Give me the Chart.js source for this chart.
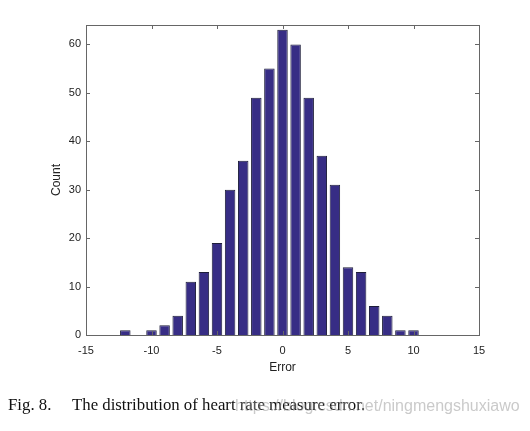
<!DOCTYPE html>
<html>
<head>
<meta charset="utf-8">
<script src="https://cdn.jsdelivr.net/npm/chart.js@4/dist/chart.umd.min.js"></script>
<style>
  html, body { margin: 0; padding: 0; background: #fff; }
  #wrap { position: relative; width: 530px; height: 431px; }
  #c { position: absolute; left: 0; top: 0; }
  .cap { position: absolute; top: 397px; line-height: 1; font-family: "Liberation Serif", "Times New Roman", serif; font-size: 16.8px; color: #111; white-space: pre; }
  #wm { position: absolute; left: 235px; top: 398px; line-height: 1; font-family: "Liberation Sans", Arial, sans-serif; font-size: 16px; color: rgba(150,150,150,0.5); white-space: pre; }
</style>
</head>
<body>
<div id="wrap">
  <canvas id="c" width="530" height="431"></canvas>
  <div class="cap" style="left:8px">Fig. 8.</div>
  <div class="cap" style="left:72px">The distribution of heart rate measure error.</div>
  <div id="wm">https://blog.csdn.net/ningmengshuxiawo</div>
</div>
<script>
const errorBins = [-12, -11, -10, -9, -8, -7, -6, -5, -4, -3, -2, -1, 0, 1, 2, 3, 4, 5, 6, 7, 8, 9, 10];
const counts    = [1, 0, 1, 2, 4, 11, 13, 19, 30, 36, 49, 55, 63, 60, 49, 37, 31, 14, 13, 6, 4, 1, 1];
const xTicks = [-15, -10, -5, 0, 5, 10, 15];
const yTicks = [0, 10, 20, 30, 40, 50, 60];
const xTitle = "Error";
const yTitle = "Count";

const frame = {
  id: 'frame',
  afterDraw(chart) {
    const {ctx, chartArea: a, scales} = chart;
    ctx.save();
    ctx.strokeStyle = '#666';
    ctx.lineWidth = 1;
    ctx.strokeRect(Math.round(a.left) + 0.5, Math.round(a.top) + 0.5, Math.round(a.right - a.left), Math.round(a.bottom - a.top));
    const tl = 4;
    ctx.beginPath();
    xTicks.forEach(v => {
      const x = Math.round(scales.x.getPixelForValue(v)) + 0.5;
      ctx.moveTo(x, a.bottom); ctx.lineTo(x, a.bottom - tl);
      ctx.moveTo(x, a.top); ctx.lineTo(x, a.top + tl);
    });
    yTicks.forEach(v => {
      const y = Math.round(scales.y.getPixelForValue(v)) + 0.5;
      ctx.moveTo(a.left, y); ctx.lineTo(a.left + tl, y);
      ctx.moveTo(a.right, y); ctx.lineTo(a.right - tl, y);
    });
    ctx.stroke();
    ctx.fillStyle = '#222';
    ctx.font = '12px "Liberation Sans", Arial, sans-serif';
    ctx.textAlign = 'center';
    ctx.textBaseline = 'middle';
    ctx.fillText(xTitle, (a.left + a.right) / 2, 368);
    ctx.translate(57, (a.top + a.bottom) / 2);
    ctx.rotate(-Math.PI / 2);
    ctx.fillText(yTitle, 0, 0);
    ctx.restore();
  }
};

new Chart(document.getElementById('c'), {
  type: 'bar',
  data: {
    datasets: [{
      data: errorBins.map((e, i) => ({x: e, y: counts[i]})),
      backgroundColor: '#372d85',
      borderColor: '#1e1e3a',
      borderWidth: 1,
      barPercentage: 1.0,
      categoryPercentage: 0.8,
      minBarLength: 0
    }]
  },
  options: {
    responsive: false,
    animation: false,
    devicePixelRatio: 1,
    layout: { padding: { left: 0, right: 51, top: 25, bottom: 0 } },
    plugins: { legend: { display: false }, tooltip: { enabled: false } },
    scales: {
      x: {
        type: 'linear',
        min: -15, max: 15,
        offset: false,
        grid: { display: false, drawTicks: false },
        border: { display: false },
        afterBuildTicks: s => { s.ticks = xTicks.map(v => ({value: v})); },
        afterFit: s => { s.height = 96; },
        ticks: { padding: 9, color: '#222', font: { family: '"Liberation Sans", Arial, sans-serif', size: 11 }, maxRotation: 0 }
      },
      y: {
        min: 0, max: 64,
        grid: { display: false, drawTicks: false },
        border: { display: false },
        afterBuildTicks: s => { s.ticks = yTicks.map(v => ({value: v})); },
        afterFit: s => { s.width = 86; },
        ticks: { padding: 5, color: '#222', font: { family: '"Liberation Sans", Arial, sans-serif', size: 11 } }
      }
    }
  },
  plugins: [frame]
});
</script>
</body>
</html>
